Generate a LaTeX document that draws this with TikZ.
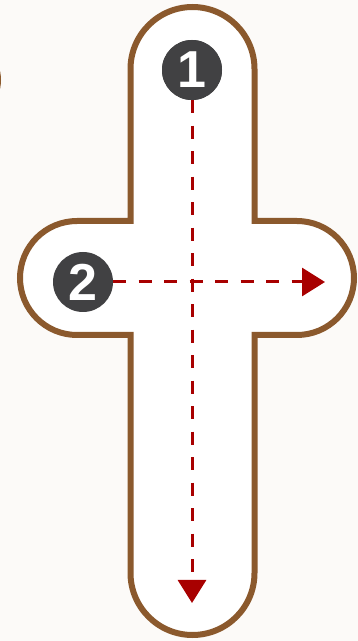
\documentclass[tikz,border=0pt]{standalone}
\usepackage{fontspec}
\setsansfont{Liberation Sans}
\usetikzlibrary{arrows.meta}
\definecolor{bgc}{HTML}{FCFAF8}
\definecolor{crossbrown}{HTML}{8B592D}
\definecolor{badge}{HTML}{414143}
\definecolor{arrowred}{HTML}{A80000}
\tikzset{
  badgenode/.style={circle, fill=badge, minimum size=60pt, inner sep=0pt, text=white, font=\sffamily\bfseries\fontsize{52}{52}\selectfont},
  flowline/.style={draw=arrowred, line width=3pt, dash pattern=on 13pt off 12.5pt, -{Triangle[length=23pt,width=28pt]}},
  outline/.style={draw=crossbrown, line width=6pt, fill=white, line join=miter}
}
\begin{document}
\begin{tikzpicture}[x=1pt,y=1pt]
  \fill[bgc] (0,0) rectangle (358,641);
  \useasboundingbox (0,0) rectangle (358,641);
  % partial shape at the left edge
  \draw[crossbrown, line width=6pt] (-40,561) ++(-22:38pt) arc[start angle=-22, end angle=22, radius=38pt];
  % cross outline
  \draw[outline]
    (130.5,420) -- (130.5,572) arc[start angle=180, end angle=0, radius=62pt]
    -- (254.5,420) -- (297,420) arc[start angle=90, end angle=-90, radius=57pt]
    -- (254.5,306) -- (254.5,68) arc[start angle=0, end angle=-180, radius=62pt]
    -- (130.5,306) -- (77,306) arc[start angle=270, end angle=90, radius=57pt]
    -- cycle;
  % badges
  \node[badgenode] (n1) at (192,571) {1};
  \node[badgenode] (n2) at (83,359) {2};
  \coordinate (endv) at (192,38);
  \coordinate (endh) at (325,359);
  \draw[flowline] (n1.south) -- (endv);
  \draw[flowline] (n2.east) -- (endh);
  \node[badgenode] at (192,571) {1};
\end{tikzpicture}
\end{document}
